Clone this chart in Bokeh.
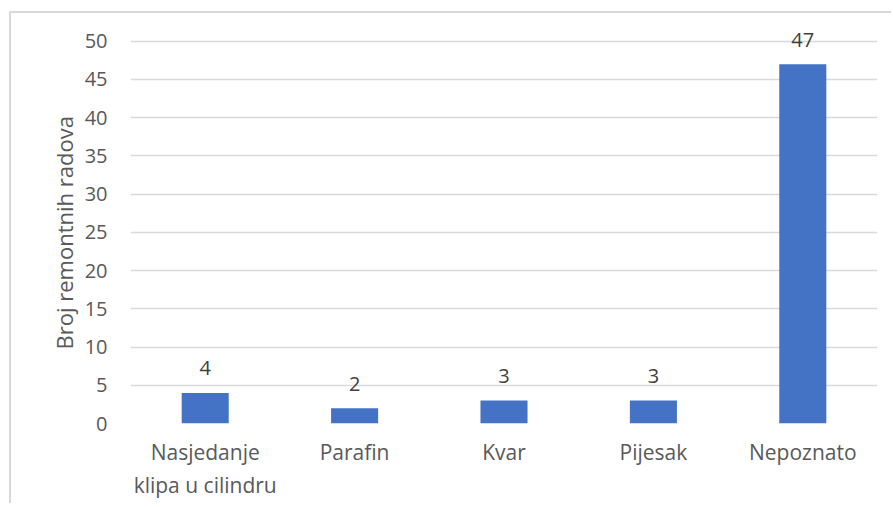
from bokeh.plotting import figure
from bokeh.models import ColumnDataSource, FactorRange, Range1d, FixedTicker, LabelSet, Title
from bokeh.core.properties import value
from bokeh.embed import file_html
from bokeh.resources import INLINE

categories = ["Nasjedanje\nklipa u cilindru", "Parafin", "Kvar", "Pijesak", "Nepoznato"]
counts = [4, 2, 3, 3, 47]
y_ticks = [0, 5, 10, 15, 20, 25, 30, 35, 40, 45, 50]
y_label = "Broj remontnih radova"

FONT = "Open Sans"
BAR = "#4472C4"
GRID = "#D9D9D9"
TICK = "#595959"

source = ColumnDataSource(data=dict(cat=categories, counts=counts,
                                    lbl=[str(c) for c in counts]))

p = figure(x_range=FactorRange(*categories), y_range=Range1d(0, 53.5),
           width=882, height=492, output_backend="svg", toolbar_location=None,
           min_border_left=119, min_border_right=16, min_border_top=1,
           min_border_bottom=82, margin=(11, 0, 0, 9))
p.styles = {"border-left": "2px solid #D9D9D9", "border-top": "2px solid #D9D9D9"}
p.outline_line_color = None
p.background_fill_color = "white"
p.border_fill_color = "white"

p.vbar(x="cat", top="counts", width=0.315, source=source,
       fill_color=BAR, line_color=None)

labels = LabelSet(x="cat", y="counts", text="lbl", source=source,
                  text_align="center", text_baseline="alphabetic", y_offset=17.5,
                  text_font=value(FONT), text_font_size=value("20px"),
                  text_color="#404040")
p.add_layout(labels)

p.xgrid.grid_line_color = None
p.ygrid.grid_line_color = GRID
p.ygrid.grid_line_width = 1.3

p.yaxis.ticker = FixedTicker(ticks=y_ticks)
for ax in (p.xaxis[0], p.yaxis[0]):
    ax.axis_line_color = None
    ax.major_tick_line_color = None
    ax.minor_tick_line_color = None
    ax.major_label_text_font = FONT
    ax.major_label_text_font_size = "20px"
    ax.major_label_text_color = TICK
p.xaxis.major_label_text_font_size = "21px"
p.yaxis.major_label_standoff = 17
p.xaxis.major_label_standoff = 8

ytitle = Title(text=y_label, align="left", offset=74, standoff=5,
               text_font=FONT, text_font_size="22px", text_font_style="normal",
               text_color=TICK)
p.add_layout(ytitle, "left")

open("out.html", "w").write(file_html(p, INLINE))
